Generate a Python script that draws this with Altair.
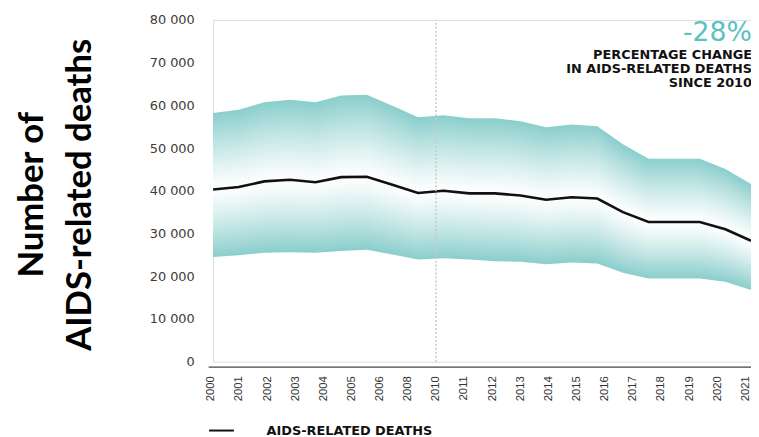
import altair as alt
import pandas as pd

# ---- data ----
years = list(range(2000, 2022))
deaths = [40300, 40900, 42200, 42600, 42000, 43200, 43300, 41400, 39500, 40000, 39400,
          39400, 38900, 37900, 38500, 38200, 35000, 32700, 32700, 32700, 31000, 28300]
upper = [58200, 59000, 60700, 61300, 60700, 62300, 62500, 59900, 57200, 57700, 57000,
         57000, 56300, 54900, 55500, 55100, 50900, 47500, 47500, 47500, 45100, 41600]
lower = [24500, 24900, 25500, 25600, 25500, 25900, 26200, 25100, 23900, 24200, 23900,
         23500, 23400, 22800, 23200, 23000, 20800, 19500, 19500, 19500, 18700, 16800]
x_labels = ["2000", "2001", "2002", "2003", "2004", "2005", "2006", "2008", "2010",
            "2011", "2012", "2013", "2014", "2015", "2016", "2017", "2018", "2019",
            "2020", "2021"]
marker_label = ["2010"]
legend_label = "AIDS-RELATED DEATHS"
y_title = ["Number of", "AIDS-related deaths"]
headline = "-28%"
headline_sub = ["PERCENTAGE CHANGE", "IN AIDS-RELATED DEATHS", "SINCE 2010"]

TEAL = "#8ccfcd"
TEAL_TEXT = "#5cc2bf"
N = 30

df = pd.DataFrame({"year": years, "mid": deaths, "hi": upper, "lo": lower})
rule_df = pd.DataFrame({"label": marker_label})

base = alt.Chart(df)

y_axis = alt.Axis(
    values=list(range(0, 80001, 10000)),
    labelExpr="replace(format(datum.value, ','), ',', ' ')",
    labelFont="DejaVu Sans", labelFontSize=13, labelColor="#3c3c3c",
    labelPadding=19, ticks=False, tickSize=0, domain=False, grid=False,
    labelFlush=False, labelOverlap=False,
    titleFont="Lato", titleFontSize=35, titleFontWeight="bold",
    titleColor="#000000", titleAngle=270, titleAlign="center",
    titleBaseline="alphabetic", titleLineHeight=48, titleX=-172, titleY=176,
)
y_scale = alt.Scale(domain=[0, 80000], nice=False, zero=True)
x_scale = alt.Scale(domain=[2000, 2021], nice=False, zero=False)

bands = base.transform_calculate(
    k=f"sequence(0, {N + 1})"
).transform_flatten(["k"]).transform_calculate(
    f=f"1 - datum.k / {N}",
    lo_f=f"datum.mid - (datum.mid - datum.lo) * (1 - datum.k / {N})",
    hi_f=f"datum.mid + (datum.hi - datum.mid) * (1 - datum.k / {N})",
).mark_area(opacity=1, interpolate="linear").encode(
    x=alt.X("year:Q", scale=x_scale, axis=None),
    y=alt.Y("lo_f:Q", scale=y_scale, axis=y_axis, title=y_title),
    y2="hi_f:Q",
    fill=alt.Fill("f:Q", scale=alt.Scale(domain=[0, 1], range=["#ffffff", TEAL],
                                         type="pow", exponent=1.2, interpolate="rgb"),
                  legend=None),
    detail="k:O",
)

line = base.transform_calculate(series=f"'{legend_label}'").mark_line(
    strokeWidth=2.6, interpolate="linear"
).encode(
    x=alt.X("year:Q", scale=x_scale, axis=None),
    y=alt.Y("mid:Q", scale=y_scale, title=y_title),
    stroke=alt.Stroke(
        "series:N",
        scale=alt.Scale(domain=[legend_label], range=["#111111"]),
        legend=alt.Legend(
            title=None, orient="none", legendX=-5, legendY=401,
            symbolType="stroke", symbolSize=625, symbolStrokeWidth=2,
            labelFont="DejaVu Sans", labelFontSize=13, labelFontWeight="bold",
            labelColor="#111111", labelOffset=32, labelLimit=0, padding=0,
        ),
    ),
)

rule = alt.Chart(rule_df).mark_rule(
    strokeDash=[2, 2], color="#c8c8c8", strokeWidth=1.5
).encode(
    x=alt.X(
        "label:N",
        scale=alt.Scale(type="point", domain=x_labels, range=[-5, 544],
                        padding=0.1655, align=0.287),
        axis=alt.Axis(
            orient="bottom", offset=5, labelAngle=270, labelFont="Liberation Sans",
            labelFontSize=11.5, labelColor="#333333", ticks=False, tickSize=0,
            domain=True, domainColor="#444444", domainWidth=1.2, labelPadding=9,
            grid=False, labelOverlap=False, labelFlush=False, title=None,
        ),
    ),
    y=alt.Y(datum=0, type="quantitative", scale=y_scale, title=y_title),
    y2=alt.Y2(datum=80000),
)

chart = alt.layer(bands, line, rule).resolve_scale(
    x="independent"
).resolve_axis(
    x="independent"
).properties(
    width=543,
    height=345,
    padding={"left": 207, "top": 10, "right": 0, "bottom": 74},
    autosize=alt.AutoSizeParams(type="none"),
    title=alt.TitleParams(
        text=headline, subtitle=headline_sub, anchor="end", frame="group",
        orient="top", offset=0, dx=1, dy=78,
        color=TEAL_TEXT, font="DejaVu Sans", fontSize=27, fontWeight="normal",
        subtitleFont="DejaVu Sans", subtitleFontSize=13, subtitleFontWeight="bold",
        subtitleColor="#111111", subtitleLineHeight=14.5, subtitlePadding=2,
    ),
).configure_view(stroke=None).configure(background="white")

chart.save("out.html", embed_options={"renderer": "svg", "actions": False})
